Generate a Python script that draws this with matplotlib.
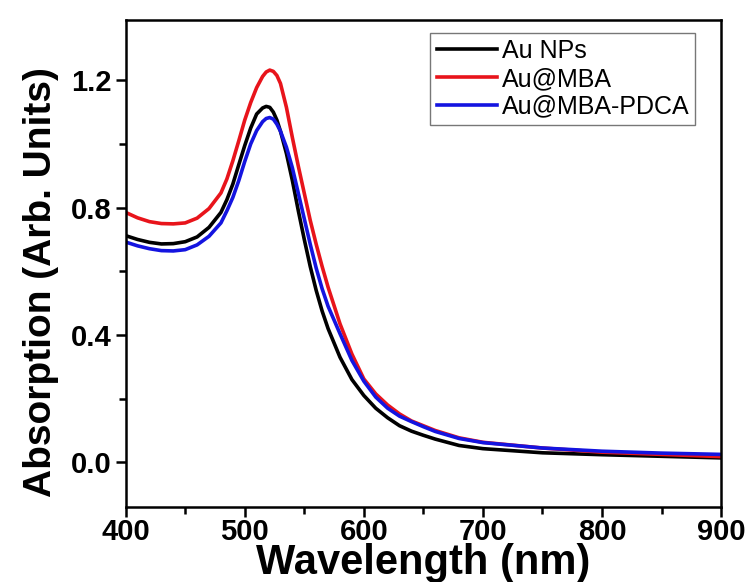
import matplotlib
matplotlib.use("Agg")
import matplotlib.pyplot as plt
from matplotlib.ticker import MultipleLocator

plt.rcParams["font.family"] = ["Liberation Sans", "DejaVu Sans"]

# wavelength (nm), values
wavelength = [400, 410, 420, 430, 440, 450, 460, 470, 480, 485, 490, 495, 500, 505,
              510, 515, 518, 521, 524, 527, 530, 535, 540, 545, 550, 555, 560, 565,
              570, 580, 590, 600, 610, 620, 630, 640, 650, 660, 680, 700, 750, 800,
              850, 900]

au_nps = [0.712, 0.700, 0.691, 0.686, 0.687, 0.693, 0.708, 0.738, 0.785, 0.825, 0.874,
          0.935, 0.995, 1.050, 1.094, 1.113, 1.118, 1.115, 1.100, 1.075, 1.040, 0.970,
          0.885, 0.790, 0.700, 0.615, 0.540, 0.475, 0.420, 0.330, 0.260, 0.210, 0.170,
          0.140, 0.115, 0.098, 0.085, 0.073, 0.053, 0.043, 0.030, 0.024, 0.019, 0.014]

au_mba = [0.785, 0.768, 0.756, 0.750, 0.749, 0.752, 0.767, 0.797, 0.846, 0.890, 0.947,
          1.010, 1.075, 1.130, 1.177, 1.212, 1.226, 1.232, 1.228, 1.215, 1.190, 1.115,
          1.020, 0.930, 0.845, 0.760, 0.685, 0.615, 0.550, 0.435, 0.340, 0.262, 0.215,
          0.180, 0.152, 0.130, 0.115, 0.100, 0.077, 0.063, 0.045, 0.032, 0.025, 0.018]

au_mba_pdca = [0.692, 0.680, 0.671, 0.665, 0.664, 0.668, 0.683, 0.710, 0.752, 0.790,
               0.832, 0.885, 0.945, 1.000, 1.042, 1.070, 1.080, 1.083, 1.078, 1.062,
               1.040, 0.990, 0.925, 0.845, 0.765, 0.685, 0.610, 0.545, 0.490, 0.404,
               0.320, 0.255, 0.205, 0.170, 0.145, 0.128, 0.112, 0.097, 0.075, 0.062,
               0.045, 0.035, 0.029, 0.025]

series = [("Au NPs", au_nps, "black"),
          ("Au@MBA", au_mba, "#e8141b"),
          ("Au@MBA-PDCA", au_mba_pdca, "#1414e0")]

fig = plt.figure(figsize=(7.48, 5.82), dpi=100)
ax = fig.add_axes([0.168, 0.129, 0.796, 0.837])

for label, y, color in series:
    ax.plot(wavelength, y, "-", color=color, lw=2.6, label=label)

ax.set_xlim(400, 900)
ax.set_ylim(-0.14, 1.39)
ax.xaxis.set_major_locator(MultipleLocator(100))
ax.xaxis.set_minor_locator(MultipleLocator(50))
ax.yaxis.set_major_locator(MultipleLocator(0.4))
ax.yaxis.set_minor_locator(MultipleLocator(0.2))
ax.yaxis.set_major_formatter(lambda v, pos: f"{v:.1f}")

for side in ax.spines.values():
    side.set_linewidth(1.8)
ax.tick_params(which="major", direction="out", length=7, width=1.8,
               top=False, right=False)
ax.tick_params(which="minor", direction="out", length=5, width=1.8,
               top=False, right=False)
ax.tick_params(axis="x", which="major", labelsize=21, pad=1)
ax.tick_params(axis="y", which="major", labelsize=21, pad=3)
for t in ax.get_xticklabels() + ax.get_yticklabels():
    t.set_fontweight("bold")

ax.set_xlabel("Wavelength (nm)", fontsize=30, fontweight="bold", labelpad=-2)
ax.set_ylabel("Absorption (Arb. Units)", fontsize=28, fontweight="bold")
ax.yaxis.set_label_coords(-0.112, 0.462)

leg = ax.legend(loc="upper right", bbox_to_anchor=(0.957, 0.973), borderaxespad=0,
                fontsize=18, handlelength=2.4, handletextpad=0.2, labelspacing=0.15,
                borderpad=0.25, fancybox=False, frameon=True)
leg.get_frame().set_edgecolor("#555555")
leg.get_frame().set_linewidth(1.0)
for line in leg.get_lines():
    line.set_linewidth(2.6)

fig.savefig("out.png", dpi=100)
